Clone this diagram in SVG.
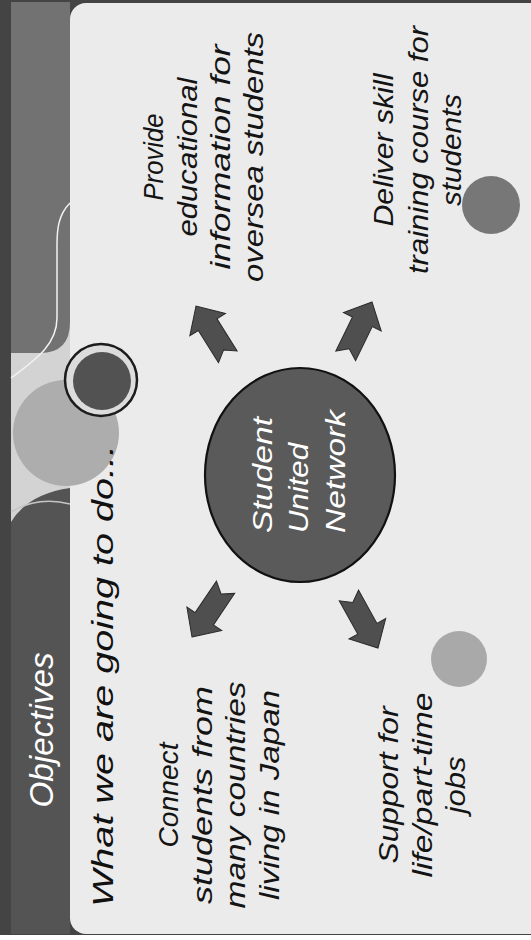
<svg xmlns="http://www.w3.org/2000/svg" width="531" height="940" viewBox="0 0 531 940">
<defs>
<style>
.t{font-family:"Liberation Sans",Arial,sans-serif;font-style:italic;}
.dk{fill:#141414;font-size:27px;}
.wh{fill:#ffffff;}
.arrow{fill:#4f4f4f;stroke:#2a2a2a;stroke-width:1;stroke-linejoin:miter;}
</style>
<path id="arr" d="M0,0 L-22,-21 L-22,-11 L-60,-11 L-52,0 L-60,11 L-22,11 L-22,21 Z"/>
</defs>
<g id="background">
<rect x="0" y="0" width="531" height="940" fill="#ffffff"/>
<rect x="0" y="0" width="531" height="935" fill="#444444"/>
<rect x="11" y="2" width="59" height="932" fill="#d3d3d3"/>
<path d="M11,2 H70 V322 Q70,353 40,353 H11 Z" fill="#727272"/>
<path d="M11,522 Q28,494 70,488 V934 H11 Z" fill="#545454"/>
<path d="M11,512 Q38,496 70,504" fill="none" stroke="#c4c4c4" stroke-width="1.5"/>
<rect x="70" y="3" width="500" height="931" rx="16" ry="16" fill="#ebebeb"/>
<path d="M70,203 C58,215 57,230 57,245 L57,318 C57,345 35,360 11,378" fill="none" stroke="#f2f2f2" stroke-width="1.5"/>
<circle cx="66" cy="433" r="53" fill="#adadad"/>
<circle cx="101" cy="380" r="36" fill="#dcdcdc" stroke="#1c1c1c" stroke-width="2.5"/>
<circle cx="102" cy="381" r="29" fill="#525252"/>
<circle cx="491" cy="205" r="29" fill="#777777"/>
<circle cx="459" cy="659" r="28" fill="#a9a9a9"/>
</g>
<g id="title">
<text class="t wh" font-size="34" transform="translate(53,730) rotate(-90)" text-anchor="middle" textLength="155" lengthAdjust="spacingAndGlyphs">Objectives</text>
<text class="t" fill="#111" font-size="30" transform="translate(113,907) rotate(-90)" text-anchor="start" textLength="462" lengthAdjust="spacingAndGlyphs">What we are going to do...</text>
</g>
<g id="connectors">
<use href="#arr" class="arrow" transform="translate(196,306) rotate(-122)"/>
<use href="#arr" class="arrow" transform="translate(372,302) rotate(-64)"/>
<use href="#arr" class="arrow" transform="translate(192,637) rotate(124)"/>
<use href="#arr" class="arrow" transform="translate(378,648) rotate(61)"/>
</g>
<g id="node-center">
<ellipse cx="300" cy="475" rx="95" ry="107" fill="#5a5a5a" stroke="#111" stroke-width="2.2"/>
<text class="t wh" font-size="28" transform="translate(272,533) rotate(-90)" textLength="116" lengthAdjust="spacingAndGlyphs">Student</text>
<text class="t wh" font-size="28" transform="translate(308,533) rotate(-90)" textLength="90" lengthAdjust="spacingAndGlyphs">United</text>
<text class="t wh" font-size="28" transform="translate(345,533) rotate(-90)" textLength="123" lengthAdjust="spacingAndGlyphs">Network</text>
</g>
<g id="node-provide">
<text class="t dk" transform="translate(163,157) rotate(-90)" text-anchor="middle" textLength="87" lengthAdjust="spacingAndGlyphs">Provide</text>
<text class="t dk" transform="translate(197,157) rotate(-90)" text-anchor="middle" textLength="159" lengthAdjust="spacingAndGlyphs">educational</text>
<text class="t dk" transform="translate(230,157) rotate(-90)" text-anchor="middle" textLength="225" lengthAdjust="spacingAndGlyphs">information for</text>
<text class="t dk" transform="translate(263,157) rotate(-90)" text-anchor="middle" textLength="250" lengthAdjust="spacingAndGlyphs">oversea students</text>
</g>
<g id="node-deliver">
<text class="t dk" transform="translate(393,150) rotate(-90)" text-anchor="middle" textLength="153" lengthAdjust="spacingAndGlyphs">Deliver skill</text>
<text class="t dk" transform="translate(428,150) rotate(-90)" text-anchor="middle" textLength="248" lengthAdjust="spacingAndGlyphs">training course for</text>
<text class="t dk" transform="translate(461,150) rotate(-90)" text-anchor="middle" textLength="112" lengthAdjust="spacingAndGlyphs">students</text>
</g>
<g id="node-connect">
<text class="t dk" transform="translate(178,795) rotate(-90)" text-anchor="middle" textLength="105" lengthAdjust="spacingAndGlyphs">Connect</text>
<text class="t dk" transform="translate(212,795) rotate(-90)" text-anchor="middle" textLength="218" lengthAdjust="spacingAndGlyphs">students from</text>
<text class="t dk" transform="translate(245,795) rotate(-90)" text-anchor="middle" textLength="227" lengthAdjust="spacingAndGlyphs">many countries</text>
<text class="t dk" transform="translate(279,795) rotate(-90)" text-anchor="middle" textLength="210" lengthAdjust="spacingAndGlyphs">living in Japan</text>
</g>
<g id="node-support">
<text class="t dk" transform="translate(398,785) rotate(-90)" text-anchor="middle" textLength="157" lengthAdjust="spacingAndGlyphs">Support for</text>
<text class="t dk" transform="translate(432,785) rotate(-90)" text-anchor="middle" textLength="185" lengthAdjust="spacingAndGlyphs">life/part-time</text>
<text class="t dk" transform="translate(465,785) rotate(-90)" text-anchor="middle" textLength="57" lengthAdjust="spacingAndGlyphs">jobs</text>
</g>
</svg>
